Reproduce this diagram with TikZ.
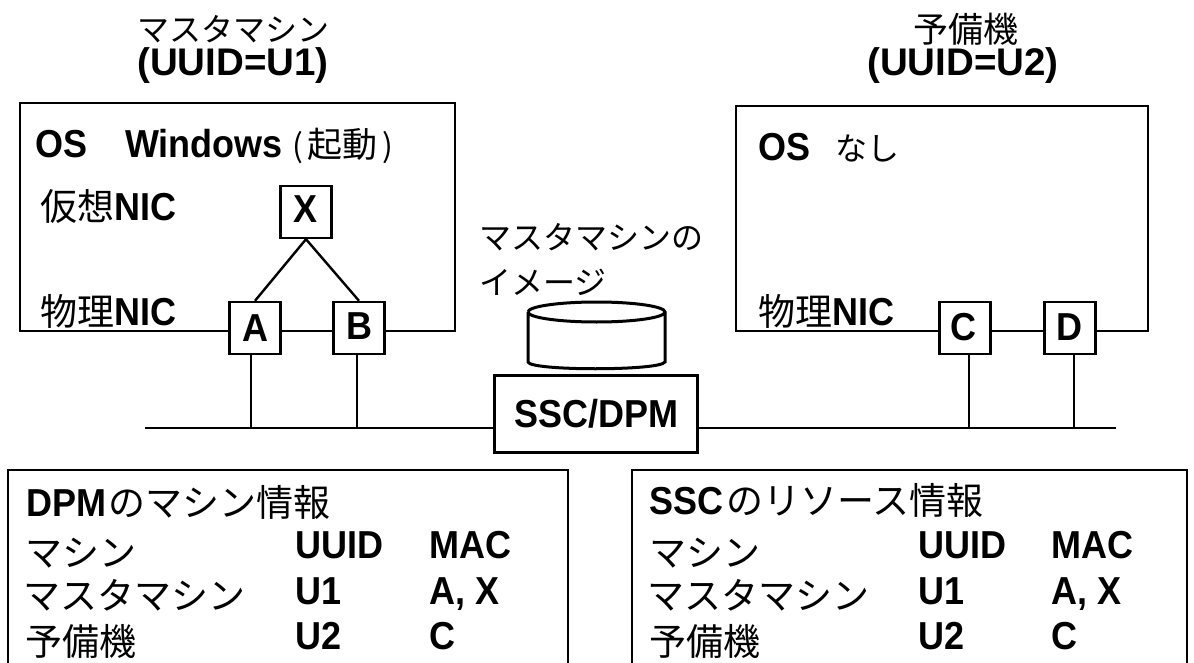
\documentclass[tikz,border=0pt]{standalone}
\usepackage{fontspec}
\setmainfont[FakeStretch=0.923]{Liberation Sans}
\newfontfamily\plainsans{Liberation Sans}
\newfontfamily\cjk{Noto Sans CJK JP}
\newcommand{\J}[1]{{\mdseries\fontsize{37}{37}\selectfont\cjk #1}}
\newcommand{\Js}[1]{{\mdseries\fontsize{32}{32}\selectfont\cjk #1}}
\newcommand{\Jm}[1]{{\mdseries\fontsize{35}{35}\selectfont\cjk #1}}
\tikzset{
  every picture/.style={line width=2.4pt},
  lbl/.style={inner sep=0pt,anchor=base west,font=\fontsize{39}{39}\selectfont\bfseries},
  ttl/.style={inner sep=0pt,anchor=base,font=\plainsans\fontsize{38.5}{38.5}\selectfont\bfseries},
  nic/.style={draw,fill=white,inner sep=0pt,minimum width=51pt,minimum height=52pt},
  niclbl/.style={inner sep=0pt,anchor=base,font=\fontsize{39}{39}\selectfont\bfseries},
  panel/.style={draw,inner sep=0pt,anchor=north west},
}
\begin{document}
\begin{tikzpicture}[x=1pt,y=-1pt]
\useasboundingbox (0,0) rectangle (1194,663);
% machine boxes
\node[panel,minimum width=435pt,minimum height=228pt] (m1) at (19,102) {};
\node[panel,minimum width=412pt,minimum height=225pt] (m2) at (735,105) {};
% titles
\node[ttl] (t1a) at (233,42) {\Js{マスタマシン}};
\node[ttl] (t1b) at (233,76) {(UUID=U1)};
\node[ttl] (t2a) at (966,43) {\Jm{予備機}};
\node[ttl] (t2b) at (963,76) {(UUID=U2)};
% machine labels
\node[lbl] (os1) at (34,158) {OS};
\node[lbl] (win) at (124,158) {Windows\hspace{10pt}\Js{(\hspace{4pt}\Jm{起動}\hspace{5pt})}};
\node[lbl] (vn) at (39,221) {\J{仮想}NIC};
\node[lbl] (pn1) at (39,325) {\J{物理}NIC};
\node[lbl] (os2) at (757,161) {OS};
\node[lbl] (nashi) at (834,161) {\Js{なし}};
\node[lbl] (pn2) at (757,325) {\J{物理}NIC};
% NICs
\node[nic] (X) at (306,212) {};
\node[nic] (A) at (255,328) {};
\node[nic] (B) at (359,328) {};
\node[nic] (C) at (965,328) {};
\node[nic] (D) at (1070,328) {};
\node[niclbl] (Xl) at (306,223) {X};
\node[niclbl] (Al) at (255,341) {A};
\node[niclbl] (Bl) at (359,339) {B};
\node[niclbl] (Cl) at (963,340) {C};
\node[niclbl] (Dl) at (1069,340) {D};
\draw (X.south) -- (A.north);
\draw (X.south) -- (B.north);
% image
\node[lbl] (im1) at (478,249) {\Js{マスタマシンの}};
\node[lbl] (im2) at (478,294) {\Js{イメージ}};
\draw[line width=3pt,fill=white] (528,312) arc[start angle=180,end angle=540,x radius=68.5,y radius=10]
  (528,312) -- (528,362) .. controls (530,371) and (660,371) .. (665,362) -- (665,312);
% server
\node[draw,fill=white,inner sep=0pt,minimum width=203pt,minimum height=77pt,font=\fontsize{39}{39}\selectfont\bfseries] (ssc) at (596,414) {SSC/DPM};
\coordinate (busL) at (145,428);
\coordinate (busR) at (1116,428);
\coordinate (tapA) at (251,428);
\coordinate (tapB) at (357,428);
\coordinate (tapC) at (969,428);
\coordinate (tapD) at (1074,428);
\draw (busL) -- (ssc.west |- busL);
\draw (ssc.east |- busR) -- (busR);
\draw (A.south -| tapA) -- (tapA);
\draw (B.south -| tapB) -- (tapB);
\draw (C.south -| tapC) -- (tapC);
\draw (D.south -| tapD) -- (tapD);
% tables (open at the picture's lower edge)
\draw (8,670) -- (8,470) -- (568,470) -- (568,670);
\draw (632,670) -- (632,470) -- (1187,470) -- (1187,670);
\node[lbl] (a0) at (25,516) {DPM\hspace{2pt}\J{のマシン情報}};
\node[lbl] (a1) at (24,566) {\J{マシン}};
\node[lbl] (a2) at (22,609) {\J{マスタマシン}};
\node[lbl] (a3) at (24,655) {\J{予備機}};
\node[lbl] (a4) at (294,558) {UUID};
\node[lbl] (a5) at (294,604) {U1};
\node[lbl] (a6) at (294,649) {U2};
\node[lbl] (a7) at (428,558) {MAC};
\node[lbl] (a8) at (428,604) {A, X};
\node[lbl] (a9) at (428,649) {C};
\node[lbl] (b0) at (648,514) {SSC\hspace{3pt}\J{のリソース情報}};
\node[lbl] (b1) at (648,566) {\J{マシン}};
\node[lbl] (b2) at (646,609) {\J{マスタマシン}};
\node[lbl] (b3) at (648,655) {\J{予備機}};
\node[lbl] (b4) at (917,558) {UUID};
\node[lbl] (b5) at (917,604) {U1};
\node[lbl] (b6) at (917,649) {U2};
\node[lbl] (b7) at (1050,558) {MAC};
\node[lbl] (b8) at (1050,604) {A, X};
\node[lbl] (b9) at (1050,649) {C};
\end{tikzpicture}
\end{document}
